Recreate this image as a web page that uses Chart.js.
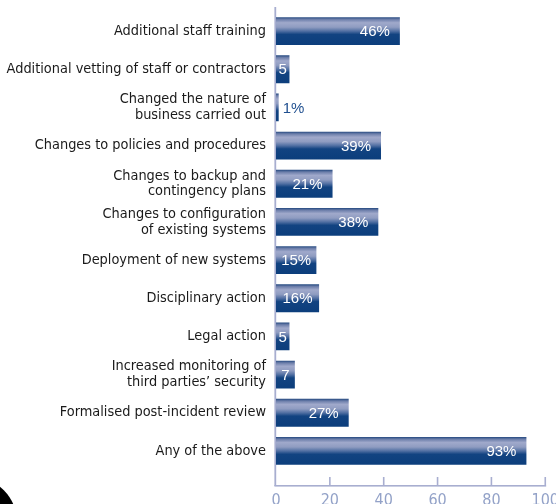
<!DOCTYPE html>
<html>
<head>
<meta charset="utf-8">
<script src="https://cdn.jsdelivr.net/npm/chart.js@4/dist/chart.umd.min.js"></script>
<style>
  html, body { margin: 0; padding: 0; background: #ffffff; }
  #wrap { position: relative; width: 556px; height: 504px; overflow: hidden; }
  #box { position: absolute; left: 0; top: 0; width: 580px; height: 504px; }
  #corner { position: absolute; left: -73px; top: 477px; width: 90px; height: 90px; border-radius: 50%; background: #000; }
</style>
</head>
<body>
<div id="wrap">
  <div id="box"><canvas id="c"></canvas></div>
  <div id="corner"></div>
</div>
<script>
const categories = [
  "Additional staff training",
  "Additional vetting of staff or contractors",
  ["Changed the nature of", "business carried out"],
  "Changes to policies and procedures",
  ["Changes to backup and", "contingency plans"],
  ["Changes to configuration", "of existing systems"],
  "Deployment of new systems",
  "Disciplinary action",
  "Legal action",
  ["Increased monitoring of", "third parties\u2019 security"],
  "Formalised post-incident review",
  "Any of the above"
];
const values = [46, 5, 1, 39, 21, 38, 15, 16, 5, 7, 27, 93];
const valueLabels = ["46%", "5", "1%", "39%", "21%", "38%", "15%", "16%", "5", "7", "27%", "93%"];
const xTicks = [0, 20, 40, 60, 80, 100];

const NARROW = "'Liberation Sans Narrow', 'Arial Narrow', 'DejaVu Sans Condensed', sans-serif";
const AXIS_COLOR = '#a8aed0';
const TICK_COLOR = '#93a2c8';
const BAR_FRAC = 0.73;

function barGradient(context) {
  const chart = context.chart;
  const ys = chart.scales && chart.scales.y;
  if (!ys || !chart.chartArea) return '#1a467f';
  const c = ys.getPixelForValue(context.dataIndex);
  const step = Math.abs(ys.getPixelForValue(1) - ys.getPixelForValue(0));
  const half = step * BAR_FRAC / 2;
  const g = chart.ctx.createLinearGradient(0, c - half, 0, c + half);
  g.addColorStop(0.0, '#23487f');
  g.addColorStop(0.08, '#6c7eaa');
  g.addColorStop(0.2, '#a0a9cb');
  g.addColorStop(0.36, '#8f9cc1');
  g.addColorStop(0.5, '#5270a3');
  g.addColorStop(0.62, '#124381');
  g.addColorStop(1.0, '#0c3e7c');
  return g;
}

const axesPlugin = {
  id: 'axesPlugin',
  beforeDatasetsDraw(chart) {
    const ctx = chart.ctx;
    const area = chart.chartArea;
    const xs = chart.scales.x;
    const axisY = 485;
    ctx.save();
    ctx.fillStyle = AXIS_COLOR;
    ctx.fillRect(area.left - 1.6, 7, 1.8, axisY - 7 + 1);
    ctx.fillRect(area.left - 1.6, axisY, xs.getPixelForValue(xTicks[xTicks.length - 1]) - area.left + 2.5, 1.6);
    xTicks.forEach(v => {
      if (v === 0) return;
      const px = xs.getPixelForValue(v);
      ctx.fillRect(px - 0.8, axisY - 8, 1.6, 8);
    });
    ctx.restore();
  }
};

const labelPlugin = {
  id: 'labelPlugin',
  afterDatasetsDraw(chart) {
    const ctx = chart.ctx;
    const meta = chart.getDatasetMeta(0);
    ctx.save();
    ctx.font = "15px 'Liberation Sans', Arial, sans-serif";
    ctx.textBaseline = 'middle';
    meta.data.forEach((bar, i) => {
      const txt = valueLabels[i];
      const w = ctx.measureText(txt).width;
      const bw = bar.x - bar.base;
      const y = bar.y + 1;
      if (w + 20 < bw) {
        ctx.fillStyle = '#ffffff';
        ctx.textAlign = 'right';
        ctx.fillText(txt, bar.x - 10, y);
      } else if (w < bw) {
        ctx.fillStyle = '#ffffff';
        ctx.textAlign = 'center';
        ctx.fillText(txt, (bar.x + bar.base) / 2, y);
      } else {
        ctx.fillStyle = '#1f4f8f';
        ctx.textAlign = 'left';
        ctx.fillText(txt, bar.x + 4, y);
      }
    });
    ctx.restore();
  }
};

new Chart(document.getElementById('c'), {
  type: 'bar',
  data: {
    labels: categories,
    datasets: [{
      data: values,
      backgroundColor: barGradient,
      borderWidth: 0,
      categoryPercentage: 1.0,
      barPercentage: BAR_FRAC
    }]
  },
  options: {
    indexAxis: 'y',
    responsive: true,
    maintainAspectRatio: false,
    animation: false,
    layout: { padding: { top: 12, right: 33, bottom: 0, left: 0 } },
    plugins: { legend: { display: false }, tooltip: { enabled: false } },
    scales: {
      x: {
        min: 0, max: 100,
        afterBuildTicks(scale) { scale.ticks = xTicks.map(v => ({ value: v })); },
        afterFit(scale) { scale.height = 34; scale.paddingLeft = 0; },
        grid: { display: false, drawTicks: false },
        border: { display: false },
        ticks: {
          color: TICK_COLOR,
          padding: 21,
          font: { family: NARROW, size: 16 },
          maxRotation: 0
        }
      },
      y: {
        afterFit(scale) { scale.width = 276; scale.paddingTop = 0; scale.paddingBottom = 0; },
        grid: { display: false, drawTicks: false },
        border: { display: false },
        ticks: {
          color: '#1a1a1a',
          padding: 10,
          font: { family: NARROW, size: 14.4, lineHeight: 1.1 },
          autoSkip: false
        }
      }
    }
  },
  plugins: [axesPlugin, labelPlugin]
});
</script>
</body>
</html>
